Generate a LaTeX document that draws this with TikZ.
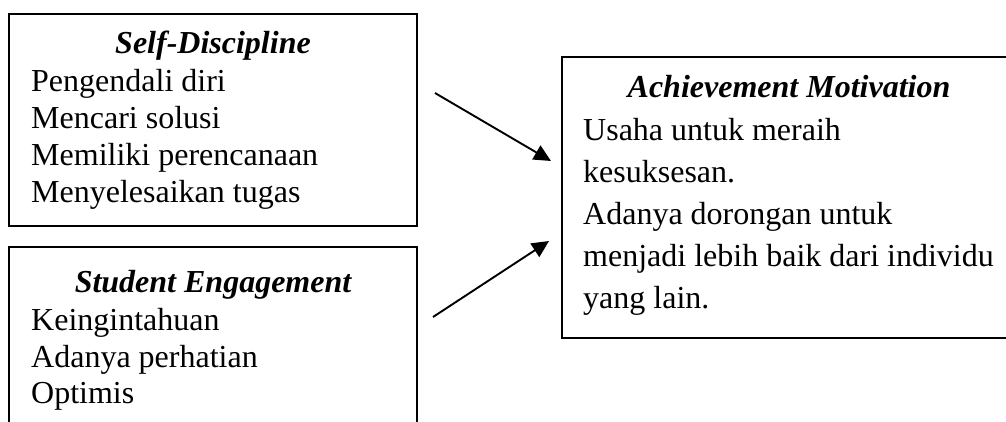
\documentclass[tikz,border=0pt]{standalone}
\usepackage{fontspec}
\setmainfont{Liberation Serif}
\usetikzlibrary{arrows.meta}
\begin{document}
\begin{tikzpicture}[x=1pt,y=-1pt,
  box/.style={draw=black,line width=1.9pt,rectangle,inner sep=0pt},
  txt/.style={anchor=base west,inner sep=0pt,font=\fontsize{32}{37}\selectfont},
  ttl/.style={anchor=base,inner sep=0pt,font=\fontsize{32}{37}\selectfont\bfseries\itshape},
  arr/.style={line width=1.9pt,-{Triangle[length=17pt,width=16pt]}}]
\useasboundingbox (0,0) rectangle (1006,421);
\clip (0,0) rectangle (1006,421);
% boxes
\node[box,minimum width=408pt,minimum height=212pt] (sd) at (213,120) {};
\node[box,minimum width=408pt,minimum height=213pt] (se) at (213,353.5) {};
\node[box,minimum width=454pt,minimum height=281pt] (am) at (789,197.5) {};
% Self-Discipline
\node[ttl] (sdt) at (213,53) {Self-Discipline};
\node[txt] (sd1) at (31,91) {Pengendali diri};
\node[txt] (sd2) at (31,128) {Mencari solusi};
\node[txt] (sd3) at (31,165) {Memiliki perencanaan};
\node[txt] (sd4) at (31,202) {Menyelesaikan tugas};
% Student Engagement
\node[ttl] (set) at (213,292) {Student Engagement};
\node[txt] (se1) at (31,330) {Keingintahuan};
\node[txt] (se2) at (31,367) {Adanya perhatian};
\node[txt] (se3) at (31,403) {Optimis};
% Achievement Motivation
\node[ttl] (amt) at (789,97) {Achievement Motivation};
\node[txt] (am1) at (583,140) {Usaha untuk meraih};
\node[txt] (am2) at (583,182) {kesuksesan.};
\node[txt] (am3) at (583,224) {Adanya dorongan untuk};
\node[txt] (am4) at (583,266) {menjadi lebih baik dari individu};
\node[txt] (am5) at (583,308) {yang lain.};
% arrows
\coordinate (a1s) at (435,93);
\coordinate (a1e) at (551,161);
\coordinate (a2s) at (433,317);
\coordinate (a2e) at (549,241);
\draw[arr] (a1s) -- (a1e);
\draw[arr] (a2s) -- (a2e);
\end{tikzpicture}
\end{document}
